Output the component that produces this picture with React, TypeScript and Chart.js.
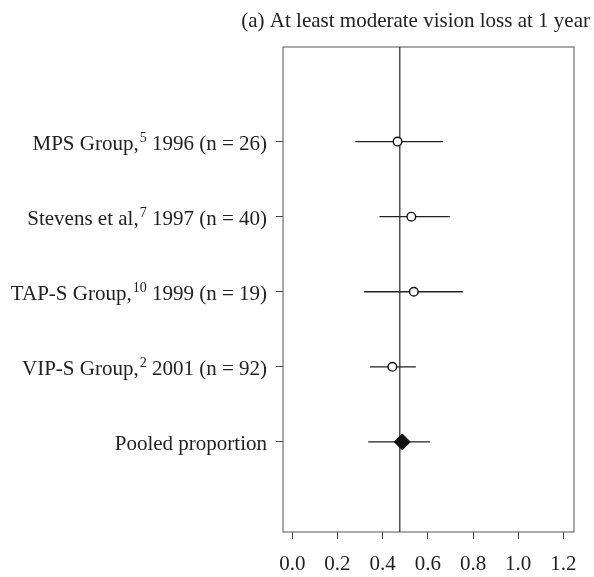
import React, { useEffect, useRef } from "react";
import { Chart, registerables } from "chart.js";
Chart.register(...registerables);

const titleText = "(a) At least moderate vision loss at 1 year";
const studyNames = ["MPS Group,", "Stevens et al,", "TAP-S Group,", "VIP-S Group,"];
const studyRefs = ["5", "7", "10", "2"];
const studyTails = [" 1996 (n = 26)", " 1997 (n = 40)", " 1999 (n = 19)", " 2001 (n = 92)"];
const pooledLabel = "Pooled proportion";
const studyRows = [5, 4, 3, 2];
const pooledRow = 1;
const studyEst = [0.466, 0.527, 0.538, 0.443];
const studyLower = [0.279, 0.386, 0.318, 0.344];
const studyUpper = [0.668, 0.697, 0.755, 0.547];
const pooledEst = 0.487;
const pooledLower = 0.336;
const pooledUpper = 0.609;
const refLine = 0.476;
const xTicks = [0, 0.2, 0.4, 0.6, 0.8, 1.0, 1.2];
const X_MIN = -0.041;
const X_MAX = 1.247;
const Y_MIN = -0.2;
const Y_MAX = 6.26;

const FONT = "'Liberation Serif', 'Times New Roman', serif";
const INK = "#222";

const framePlugin = {
  id: "frame",
  beforeDatasetsDraw(chart: any) {
    const { ctx, chartArea } = chart;
    ctx.save();
    ctx.strokeStyle = "#555";
    ctx.lineWidth = 1;
    ctx.strokeRect(chartArea.left, chartArea.top, chartArea.right - chartArea.left, chartArea.bottom - chartArea.top);
    ctx.restore();
  },
};

const labelPlugin = {
  id: "labels",
  afterDraw(chart: any) {
    const { ctx } = chart;
    const ys = chart.scales.y;
    const xRight = chart.chartArea.left - 16;
    ctx.save();
    ctx.fillStyle = INK;
    ctx.textBaseline = "alphabetic";
    ctx.textAlign = "left";
    const main = "21px " + FONT;
    const sup = "14px " + FONT;
    const rows: { parts: string[]; row: number }[] = studyNames.map((n, i) => ({
      parts: [n, studyRefs[i], studyTails[i]],
      row: studyRows[i],
    }));
    rows.push({ parts: [pooledLabel, "", ""], row: pooledRow });
    rows.forEach(({ parts, row }) => {
      const py = ys.getPixelForValue(row) + 8.5;
      ctx.font = main;
      const w0 = ctx.measureText(parts[0]).width;
      const w2 = ctx.measureText(parts[2]).width;
      ctx.font = sup;
      const w1 = parts[1] ? ctx.measureText(parts[1]).width + 1 : 0;
      let x = xRight - (w0 + w1 + w2);
      ctx.font = main;
      ctx.fillText(parts[0], x, py);
      x += w0;
      if (parts[1]) {
        ctx.font = sup;
        ctx.fillText(parts[1], x + 1, py - 8);
        x += w1;
      }
      ctx.font = main;
      if (parts[2]) ctx.fillText(parts[2], x, py);
    });
    // title
    ctx.font = main;
    ctx.textAlign = "right";
    ctx.fillText(titleText, 590, 27);
    ctx.restore();
  },
};

export default function App() {
  const ref = useRef<HTMLCanvasElement>(null);
  useEffect(() => {
    if (!ref.current) return;
    const ciSets = studyRows.map((r, i) => ({
      type: "scatter" as const,
      data: [
        { x: studyLower[i], y: r },
        { x: studyUpper[i], y: r },
      ],
      showLine: true,
      borderColor: INK,
      borderWidth: 1.3,
      pointRadius: 0,
      order: 3,
    }));
    const chart = new Chart(ref.current, {
      type: "scatter",
      data: {
        datasets: [
          {
            data: [
              { x: refLine, y: Y_MIN },
              { x: refLine, y: Y_MAX },
            ],
            showLine: true,
            borderColor: "#333",
            borderWidth: 1.3,
            pointRadius: 0,
            order: 4,
          },
          ...ciSets,
          {
            data: [
              { x: pooledLower, y: pooledRow },
              { x: pooledUpper, y: pooledRow },
            ],
            showLine: true,
            borderColor: INK,
            borderWidth: 1.3,
            pointRadius: 0,
            order: 3,
          },
          {
            data: studyRows.map((r, i) => ({ x: studyEst[i], y: r })),
            pointStyle: "circle",
            pointRadius: 4.3,
            pointBackgroundColor: "#fff",
            pointBorderColor: "#111",
            pointBorderWidth: 1.4,
            order: 1,
          },
          {
            data: [{ x: pooledEst, y: pooledRow }],
            pointStyle: "rectRot",
            pointRadius: 8,
            pointBackgroundColor: "#111",
            pointBorderColor: "#111",
            pointBorderWidth: 1,
            order: 0,
          },
        ] as any,
      },
      options: {
        animation: false,
        responsive: false,
        devicePixelRatio: 1,
        layout: { padding: { left: 0, top: 47, right: 20, bottom: 0 } },
        plugins: { legend: { display: false }, tooltip: { enabled: false }, title: { display: false } },
        scales: {
          x: {
            type: "linear",
            min: X_MIN,
            max: X_MAX,
            afterBuildTicks: (s: any) => {
              s.ticks = xTicks.map((v) => ({ value: v }));
            },
            afterFit: (s: any) => {
              s.height = 45;
            },
            ticks: {
              callback: (v: any) => Number(v).toFixed(1),
              font: { family: FONT, size: 21 },
              color: INK,
              padding: 13,
              maxRotation: 0,
              autoSkip: false,
            },
            grid: { display: true, drawOnChartArea: false, drawTicks: true, tickLength: 7, color: "#444", lineWidth: 1 },
            border: { display: false },
          },
          y: {
            type: "linear",
            min: Y_MIN,
            max: Y_MAX,
            afterBuildTicks: (s: any) => {
              s.ticks = [...studyRows, pooledRow].map((v) => ({ value: v }));
            },
            afterFit: (s: any) => {
              s.width = 283;
            },
            ticks: { display: false },
            grid: { display: true, drawOnChartArea: false, drawTicks: true, tickLength: 7, color: "#444", lineWidth: 1 },
            border: { display: false },
          },
        },
      },
      plugins: [framePlugin, labelPlugin],
    });
    return () => chart.destroy();
  }, []);
  return (
    <div style={{ position: "absolute", left: 0, top: 0, width: 594, height: 577, background: "#fff" }}>
      <canvas ref={ref} width={594} height={577} />
    </div>
  );
}
